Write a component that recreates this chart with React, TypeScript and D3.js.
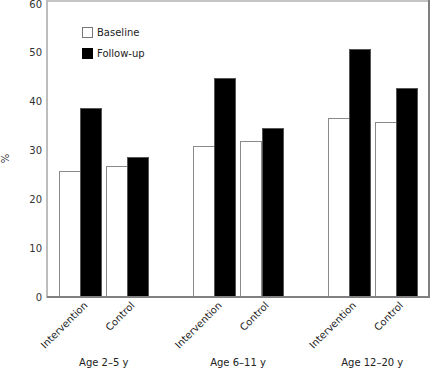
import React from "react";
import * as d3 from "d3";

const groups = ["Age 2–5 y", "Age 6–11 y", "Age 12–20 y"];
const arms = ["Intervention", "Control"];
const periods = ["Baseline", "Follow-up"];

// percent
const interventionBaseline = [25.8, 30.9, 36.7];
const interventionFollowUp = [38.8, 44.8, 50.7];
const controlBaseline = [26.8, 31.9, 35.8];
const controlFollowUp = [28.7, 34.7, 42.8];
const yTicks = [0, 10, 20, 30, 40, 50, 60];

const W = 430;
const H = 369;
const left = 47;
const right = 429;
const top = 4;
const bottom = 297;
const font = "DejaVu Sans, Verdana, sans-serif";

export default function App() {
  const x0 = d3.scaleBand().domain(groups).range([left, right]).paddingInner(0.335).paddingOuter(0.09);
  const x1 = d3.scaleBand().domain(arms).range([0, x0.bandwidth()]).paddingInner(0.106);
  const x2 = d3.scaleBand().domain(periods).range([0, x1.bandwidth()]);
  const y = d3.scaleLinear().domain([0, 60]).range([bottom, top]);

  const rows = groups.flatMap((g, i) => [
    { g, arm: "Intervention", period: "Baseline", v: interventionBaseline[i] },
    { g, arm: "Intervention", period: "Follow-up", v: interventionFollowUp[i] },
    { g, arm: "Control", period: "Baseline", v: controlBaseline[i] },
    { g, arm: "Control", period: "Follow-up", v: controlFollowUp[i] },
  ]);

  return (
    <svg width={W} height={H} style={{ position: "absolute", left: 0, top: 0 }} fontFamily={font}>
      <rect width={W} height={H} fill="#fff" />
      {/* frame */}
      <line x1={left} x2={right} y1={1} y2={1} stroke="#c4c4c4" strokeWidth={2} />
      <line x1={right} x2={right} y1={0} y2={bottom} stroke="#808080" strokeWidth={2} />

      {rows.map((d, i) => {
        const x = Math.round(x0(d.g)! + x1(d.arm)! + x2(d.period)!);
        const w = Math.round(x2.bandwidth());
        const yt = Math.round(y(d.v));
        const base = d.period === "Baseline";
        return (
          <rect
            key={i}
            x={x + 0.5}
            y={yt + 0.5}
            width={w}
            height={bottom - yt}
            fill={base ? "#fff" : "#000"}
            stroke={base ? "#8a8a8a" : "#555"}
            strokeWidth={1}
          />
        );
      })}

      <line x1={left} x2={left} y1={0} y2={bottom + 1} stroke="#bdbdbd" strokeWidth={2} />
      <line x1={left} x2={right + 1} y1={bottom} y2={bottom} stroke="#808080" strokeWidth={2} />

      {yTicks.map((t) => (
        <text key={t} x={42} y={y(t)} dy="0.35em" textAnchor="end" fontSize={10} fill="#333">
          {t}
        </text>
      ))}
      <text transform={`translate(9,${(top + bottom) / 2 + 8}) rotate(-90)`} textAnchor="middle" fontSize={10} fill="#333">
        %
      </text>

      {groups.map((g) =>
        arms.map((a) => {
          const cx = x0(g)! + x1(a)! + x1.bandwidth() / 2 + 8;
          return (
            <text
              key={g + a}
              transform={`translate(${cx},${bottom + 9}) rotate(-45)`}
              textAnchor="end"
              fontSize={10}
              fill="#222"
            >
              {a}
            </text>
          );
        })
      )}
      {groups.map((g) => (
        <text key={g} x={x0(g)! + x0.bandwidth() / 2} y={362} dy="0.35em" textAnchor="middle" fontSize={10} fill="#222">
          {g}
        </text>
      ))}

      {periods.map((p, i) => (
        <g key={p} transform={`translate(82,${27 + i * 21})`}>
          <rect x={0.5} y={0.5} width={10} height={10} fill={i === 0 ? "#fff" : "#000"} stroke={i === 0 ? "#777" : "#000"} />
          <text x={15} y={5.5} dy="0.35em" fontSize={10} fill="#222">
            {p}
          </text>
        </g>
      ))}
    </svg>
  );
}
